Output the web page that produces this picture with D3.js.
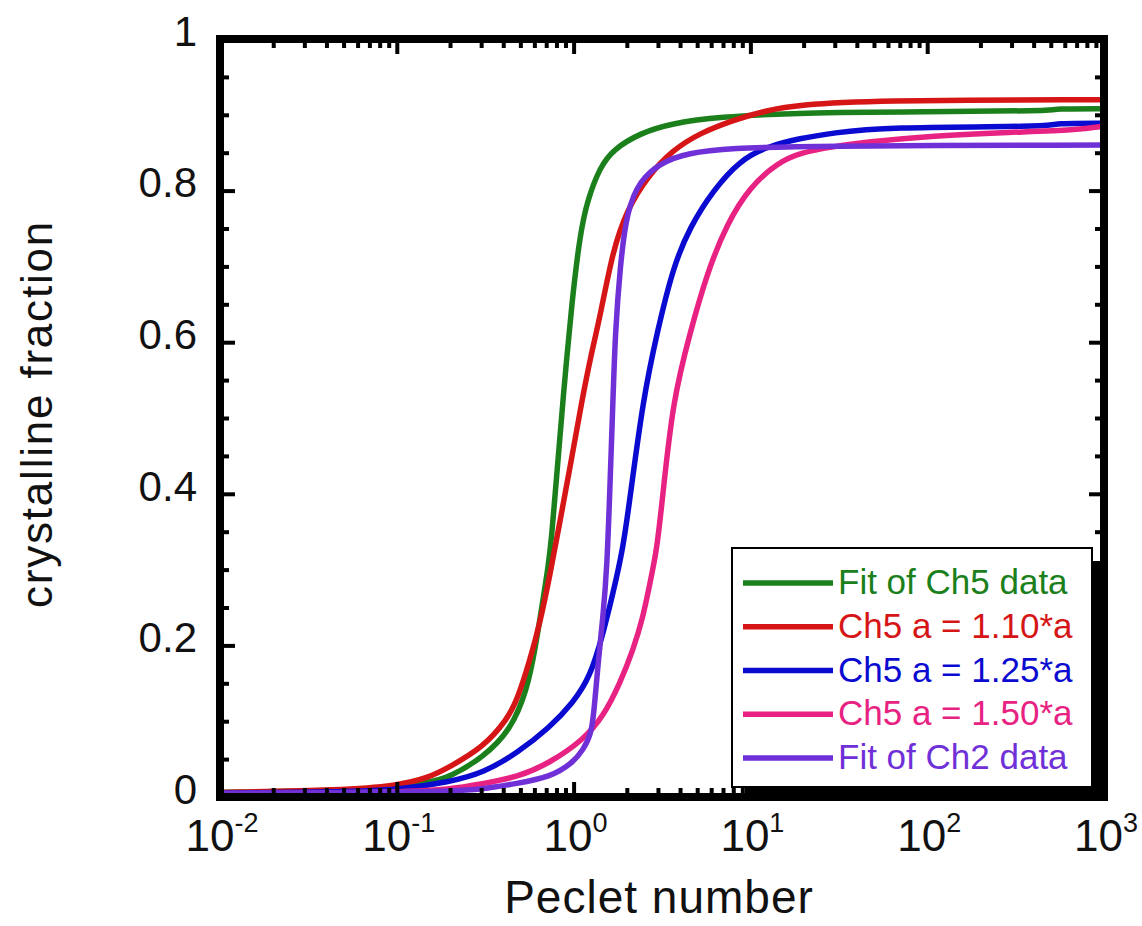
<!DOCTYPE html>
<html>
<head>
<meta charset="utf-8">
<script src="https://cdn.jsdelivr.net/npm/d3@7"></script>
<style>
  html, body { margin: 0; padding: 0; background: #fff; }
  svg { display: block; font-family: "Liberation Sans", Arial, Helvetica, sans-serif; }
</style>
</head>
<body>
<svg id="chart" width="1142" height="926"></svg>
<script>
// Crystalline fraction vs. Peclet number: [Pe, fraction] pairs for each curve
const fitCh5 = [
  [0.01, 0.006], [0.02, 0.007], [0.05, 0.009], [0.1, 0.013], [0.15, 0.019],
  [0.2, 0.026], [0.31, 0.053], [0.44, 0.088], [0.545, 0.141], [0.605, 0.194],
  [0.671, 0.26], [0.717, 0.303], [0.75, 0.34], [0.8, 0.42], [0.87, 0.524],
  [0.98, 0.656], [1.09, 0.744], [1.2, 0.788], [1.41, 0.831], [1.67, 0.854],
  [2.38, 0.876], [3.65, 0.889], [6.5, 0.897], [19, 0.903], [100, 0.904],
  [480, 0.905], [520, 0.908], [1000, 0.908]
];
const ch5a110 = [
  [0.01, 0.006], [0.05, 0.009], [0.1, 0.015], [0.15, 0.025], [0.2, 0.04],
  [0.31, 0.066], [0.42, 0.102], [0.48, 0.128], [0.567, 0.181], [0.646, 0.23],
  [0.735, 0.293], [0.838, 0.364], [0.967, 0.442], [1.116, 0.524], [1.254, 0.583],
  [1.41, 0.633], [1.67, 0.722], [2.0, 0.774], [2.6, 0.818], [3.65, 0.854],
  [5.2, 0.876], [8.0, 0.893], [12.4, 0.906], [19, 0.913], [46, 0.919],
  [1000, 0.92]
];
const ch5a125 = [
  [0.01, 0.005], [0.05, 0.007], [0.1, 0.009], [0.2, 0.02], [0.31, 0.032],
  [0.48, 0.058], [0.735, 0.092], [0.99, 0.124], [1.24, 0.158], [1.47, 0.216],
  [1.67, 0.269], [1.9, 0.326], [2.1, 0.40], [2.47, 0.524], [2.96, 0.612],
  [3.65, 0.699], [4.55, 0.752], [6.14, 0.80], [8.73, 0.84], [12.4, 0.858],
  [19.1, 0.869], [29.3, 0.876], [56, 0.884], [480, 0.884], [520, 0.889],
  [1000, 0.889]
];
const ch5a150 = [
  [0.01, 0.004], [0.1, 0.006], [0.2, 0.01], [0.31, 0.018], [0.48, 0.026],
  [0.735, 0.045], [1.13, 0.075], [1.47, 0.106], [1.83, 0.15], [2.17, 0.194],
  [2.47, 0.237], [2.7, 0.282], [2.96, 0.326], [3.2, 0.40], [3.65, 0.524],
  [4.55, 0.612], [5.68, 0.691], [7.38, 0.757], [9.95, 0.805], [14.1, 0.836],
  [19.1, 0.85], [29.3, 0.858], [45.7, 0.864], [100, 0.872], [300, 0.877],
  [700, 0.88], [1000, 0.885]
];
const fitCh2 = [
  [0.01, 0.005], [0.1, 0.006], [0.2, 0.008], [0.3, 0.01], [0.48, 0.018],
  [0.735, 0.026], [0.99, 0.045], [1.13, 0.062], [1.27, 0.084], [1.32, 0.128],
  [1.37, 0.172], [1.466, 0.237], [1.545, 0.303], [1.6, 0.40], [1.67, 0.524],
  [1.72, 0.612], [1.83, 0.699], [2.0, 0.774], [2.38, 0.814], [3.08, 0.836],
  [4.38, 0.85], [8.0, 0.856], [19, 0.859], [1000, 0.86]
];

const seriesData = [fitCh5, ch5a110, ch5a125, ch5a150, fitCh2];
const legendLabels = ["Fit of Ch5 data", "Ch5 a = 1.10*a", "Ch5 a = 1.25*a", "Ch5 a = 1.50*a", "Fit of Ch2 data"];
const seriesColors = ["#1b801b", "#d61616", "#0a0ad0", "#e82282", "#7030d8"];

const xTickExponents = [-2, -1, 0, 1, 2, 3];
const yTickValues = [0, 0.2, 0.4, 0.6, 0.8, 1];
const yMinorValues = [0.05, 0.1, 0.15, 0.25, 0.3, 0.35, 0.45, 0.5, 0.55, 0.65, 0.7, 0.75, 0.85, 0.9, 0.95];

const svg = d3.select("#chart");
const plotLeft = 220, plotRight = 1104, plotTop = 39, plotBottom = 797;

const x = d3.scaleLog().domain([1e-2, 1e3]).range([plotLeft, plotRight]);
const y = d3.scaleLinear().domain([0, 1]).range([plotBottom, plotTop]);

const xMajor = xTickExponents.map(e => Math.pow(10, e));
const xMinor = [];
xTickExponents.slice(0, -1).forEach(e => {
  for (let m = 2; m <= 9; m++) xMinor.push(m * Math.pow(10, e));
});

// clip the curves to the inside of the frame
svg.append("defs").append("clipPath").attr("id", "plotClip")
  .append("rect").attr("x", plotLeft).attr("y", plotTop)
  .attr("width", plotRight - plotLeft).attr("height", plotBottom - plotTop);

// curves (smoothed through the sampled points)
const line = d3.line()
  .x(d => x(d[0]))
  .y(d => y(d[1]))
  .curve(d3.curveBasis);

svg.append("g").attr("clip-path", "url(#plotClip)")
  .selectAll("path").data(seriesData).join("path")
  .attr("d", line)
  .attr("fill", "none")
  .attr("stroke", (d, i) => seriesColors[i])
  .attr("stroke-width", 5.5)
  .attr("stroke-linejoin", "round");

// inward ticks on all four sides
function styleTicks(g) {
  g.select(".domain").remove();
  g.selectAll(".tick line").attr("stroke", "#000").attr("stroke-width", 4);
}
const majorLen = 15, minorLen = 9;

svg.append("g").attr("transform", `translate(0,${plotBottom})`)
  .call(d3.axisBottom(x).tickValues(xMajor).tickSize(-majorLen).tickFormat(""))
  .call(styleTicks);
svg.append("g").attr("transform", `translate(0,${plotBottom})`)
  .call(d3.axisBottom(x).tickValues(xMinor).tickSize(-minorLen).tickFormat(""))
  .call(styleTicks);
svg.append("g").attr("transform", `translate(0,${plotTop})`)
  .call(d3.axisTop(x).tickValues(xMajor).tickSize(-majorLen).tickFormat(""))
  .call(styleTicks);
svg.append("g").attr("transform", `translate(0,${plotTop})`)
  .call(d3.axisTop(x).tickValues(xMinor).tickSize(-minorLen).tickFormat(""))
  .call(styleTicks);

const yAxisLeft = svg.append("g").attr("transform", `translate(${plotLeft},0)`)
  .call(d3.axisLeft(y).tickValues(yTickValues).tickSize(-majorLen).tickPadding(23)
    .tickFormat(d => (d === 0 || d === 1) ? String(d) : d.toFixed(1)))
  .call(styleTicks);
yAxisLeft.selectAll(".tick text")
  .attr("font-size", 42).attr("fill", "#111")
  .attr("font-family", "'Liberation Sans', Arial, sans-serif")
  .attr("dy", "0.15em");
svg.append("g").attr("transform", `translate(${plotLeft},0)`)
  .call(d3.axisLeft(y).tickValues(yMinorValues).tickSize(-minorLen).tickFormat(""))
  .call(styleTicks);
svg.append("g").attr("transform", `translate(${plotRight},0)`)
  .call(d3.axisRight(y).tickValues(yTickValues).tickSize(-majorLen).tickFormat(""))
  .call(styleTicks);
svg.append("g").attr("transform", `translate(${plotRight},0)`)
  .call(d3.axisRight(y).tickValues(yMinorValues).tickSize(-minorLen).tickFormat(""))
  .call(styleTicks);

// x tick labels: 10 with a superscript exponent
const xLabels = svg.append("g").attr("fill", "#111");
xTickExponents.forEach(e => {
  const t = xLabels.append("text")
    .attr("x", x(Math.pow(10, e)) + 2)
    .attr("y", 851)
    .attr("text-anchor", "middle")
    .attr("font-size", 44);
  t.append("tspan").text("10");
  t.append("tspan").attr("dy", -19).attr("font-size", 27).text(String(e));
});

// frame
svg.append("rect")
  .attr("x", plotLeft).attr("y", plotTop)
  .attr("width", plotRight - plotLeft).attr("height", plotBottom - plotTop)
  .attr("fill", "none").attr("stroke", "#000").attr("stroke-width", 8);

// axis titles
svg.append("text")
  .attr("x", 659).attr("y", 913)
  .attr("text-anchor", "middle")
  .attr("font-size", 46)
  .attr("letter-spacing", "1px")
  .attr("fill", "#111")
  .text("Peclet number");

svg.append("text")
  .attr("transform", "translate(52,414) rotate(-90)")
  .attr("text-anchor", "middle")
  .attr("font-size", 44)
  .attr("letter-spacing", "1.8px")
  .attr("fill", "#111")
  .text("crystalline fraction");

// legend with drop shadow
const lg = { x: 732, y: 548, w: 360, h: 239, shadow: 13 };
svg.append("rect")
  .attr("x", lg.x + lg.shadow).attr("y", lg.y + lg.shadow)
  .attr("width", lg.w).attr("height", lg.h).attr("fill", "#000");
svg.append("rect")
  .attr("x", lg.x).attr("y", lg.y)
  .attr("width", lg.w).attr("height", lg.h)
  .attr("fill", "#fff").attr("stroke", "#000").attr("stroke-width", 2);

const rowY = d3.scalePoint().domain(d3.range(legendLabels.length)).range([583, 758]);
const rows = svg.append("g").selectAll("g").data(legendLabels).join("g")
  .attr("transform", (d, i) => `translate(0,${rowY(i)})`);
rows.append("line")
  .attr("x1", 743).attr("x2", 833).attr("y1", 0).attr("y2", 0)
  .attr("stroke", (d, i) => seriesColors[i]).attr("stroke-width", 5.5);
rows.append("text")
  .attr("x", 838).attr("y", 11)
  .attr("font-size", 35)
  .attr("fill", (d, i) => seriesColors[i])
  .text(d => d);
</script>
</body>
</html>
